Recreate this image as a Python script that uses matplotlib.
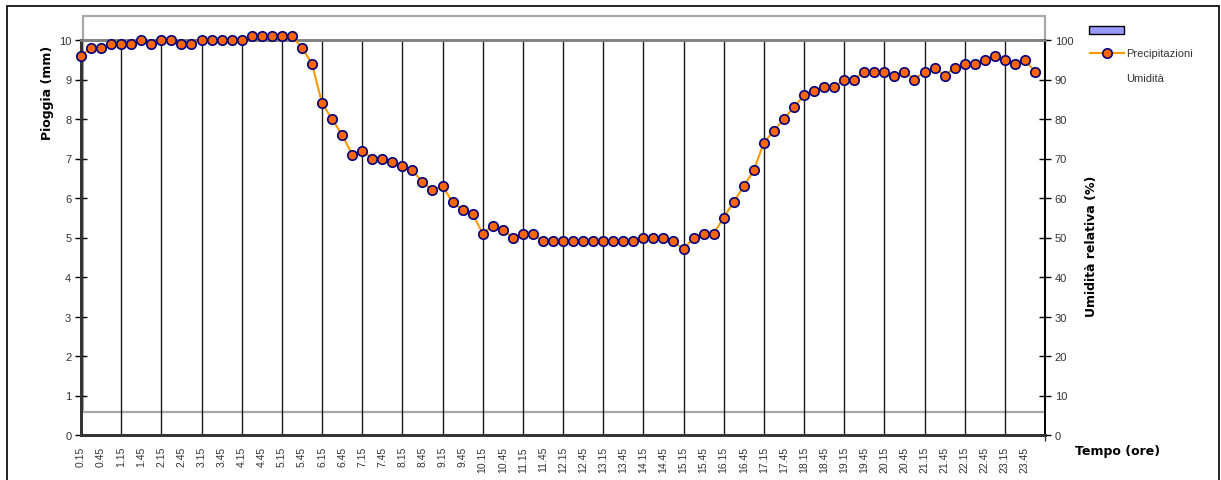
"""
Umidita relativa nelle 24 ore (grafico a categorie, stile foglio di calcolo).
"""

import matplotlib.pyplot as plt
import matplotlib.patches as mpatches
from matplotlib.lines import Line2D

# Data
orari = []
for h in range(24):
    for m in ("15", "30", "45"):
        orari.append(f"{h}.{m}")
    orari.append(f"{h + 1}.00")

umidita = [
    96, 98, 98, 99, 99, 99, 100, 99, 100, 100, 99, 99,
    100, 100, 100, 100, 100, 101, 101, 101, 101, 101, 98, 94,
    84, 80, 76, 71, 72, 70, 70, 69, 68, 67, 64, 62,
    63, 59, 57, 56, 51, 53, 52, 50, 51, 51, 49, 49,
    49, 49, 49, 49, 49, 49, 49, 49, 50, 50, 50, 49,
    47, 50, 51, 51, 55, 59, 63, 67, 74, 77, 80, 83,
    86, 87, 88, 88, 90, 90, 92, 92, 92, 91, 92, 90,
    92, 93, 91, 93, 94, 94, 95, 96, 95, 94, 95, 92,
]

pioggia_ticks = list(range(0, 11))
umidita_ticks = list(range(0, 101, 10))

W, H = 1221, 481
fig = plt.figure(figsize=(W / 100, H / 100), dpi=100)
plt.rcParams['font.family'] = ['Liberation Sans', 'DejaVu Sans']

ax = fig.add_axes([81 / W, 1 - 436 / H, 964 / W, 395 / H])
ax2 = ax.twinx()

n = len(umidita)
ax.set_xlim(0, n)
ax.set_ylim(0, 10)
ax2.set_ylim(0, 100)

# vertical grid every 4 categories
for x in range(4, n, 4):
    ax.axvline(x, color='#1a1a1a', lw=1, zorder=1)

# grey frame of the plot area (shifted, as in the original)
ax.add_patch(mpatches.Rectangle((0.002, 0.058), 0.998, 1.003,
                                transform=ax.transAxes, fill=False,
                                edgecolor='#a8a8a8', lw=1.6, clip_on=False,
                                zorder=0))

ax2.plot(range(n), umidita, color='#ff9900', lw=1.5, marker='o',
         markersize=6.8, markerfacecolor='#ff6600', markeredgecolor='#000080',
         markeredgewidth=1.2, clip_on=False, zorder=5)

# spines
for a in (ax, ax2):
    a.spines['left'].set_color('#333333')
    a.spines['left'].set_linewidth(2)
    a.spines['bottom'].set_color('#333333')
    a.spines['bottom'].set_linewidth(2)
    a.spines['right'].set_color('black')
    a.spines['right'].set_linewidth(1.2)
    a.spines['top'].set_color('#808080')
    a.spines['top'].set_linewidth(1.8)

# x axis
ax.set_xticks(range(0, n, 2))
ax.set_xticklabels(orari[0:n:2], rotation=90, fontsize=7.5, color='#333333')
ax.tick_params(axis='x', which='major', length=0, pad=8)
ax.set_xticks(range(0, n + 1, 4), minor=True)
ax.tick_params(axis='x', which='minor', length=4, direction='out',
               color='#333333', width=1)

# y axes
ax.set_yticks(pioggia_ticks)
ax.tick_params(axis='y', direction='inout', length=8, width=1,
               labelsize=8, labelcolor='#333333', pad=3)
ax2.set_yticks(umidita_ticks)
ax2.tick_params(axis='y', direction='inout', length=8, width=1,
                labelsize=8, labelcolor='#333333', pad=3)

# axis titles
fig.text(47 / W, 1 - 93 / H, 'Pioggia (mm)', rotation=90, ha='center',
         va='center', fontsize=9, fontweight='bold', family='DejaVu Sans')
fig.text(1091 / W, 1 - 246 / H, 'Umidità relativa (%)', rotation=90,
         ha='center', va='center', fontsize=9, fontweight='bold',
         family='DejaVu Sans')
fig.text(1118 / W, 1 - 452 / H, 'Tempo (ore)', ha='center', va='center',
         fontsize=9, fontweight='bold', family='DejaVu Sans')

# legend (as drawn in the original)
fig.add_artist(mpatches.Rectangle((1089 / W, 1 - 35 / H), 35 / W, 8 / H,
                                  facecolor='#9999ff', edgecolor='black',
                                  lw=1, transform=fig.transFigure))
fig.add_artist(Line2D([1090 / W, 1124 / W], [1 - 54 / H, 1 - 54 / H],
                      color='#ff9900', lw=1.5, transform=fig.transFigure))
fig.add_artist(Line2D([1107 / W], [1 - 54 / H], marker='o', markersize=6.8,
                      markerfacecolor='#ff6600', markeredgecolor='#000080',
                      markeredgewidth=1.2, transform=fig.transFigure))
fig.text(1126 / W, 1 - 54 / H, 'Precipitazioni', ha='left', va='center',
         fontsize=8, color='#333333')
fig.text(1126 / W, 1 - 79 / H, 'Umidità', ha='left', va='center',
         fontsize=8, color='#333333')

# outer border
fig.add_artist(mpatches.Rectangle((7 / W, -0.1), 1212 / W, 1.1 - 7 / H,
                                  fill=False, edgecolor='black', lw=1.2,
                                  transform=fig.transFigure))

fig.savefig('out.png', dpi=100)
